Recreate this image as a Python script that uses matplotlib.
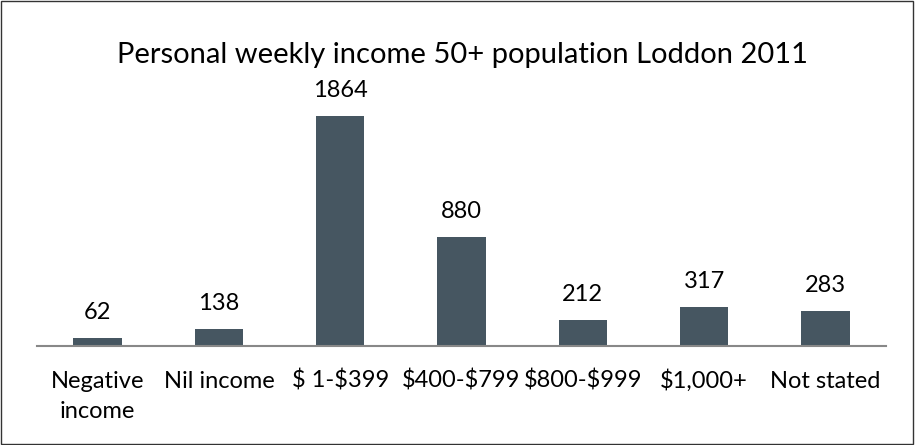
import matplotlib
matplotlib.use("Agg")
import matplotlib.pyplot as plt
from matplotlib.patches import Rectangle

categories = ["Negative\nincome", "Nil income", "\\$ 1-\\$399", "\\$400-\\$799",
              "\\$800-\\$999", "\\$1,000+", "Not stated"]
values = [62, 138, 1864, 880, 212, 317, 283]
title = "Personal weekly income 50+ population Loddon 2011"

BAR_COLOR = "#465661"
plt.rcParams["font.family"] = ["Lato", "DejaVu Sans"]

fig = plt.figure(figsize=(9.15, 4.45), dpi=100)
ax = fig.add_axes([0.0404, 0.2225, 0.9279, 0.5753])

x = list(range(len(categories)))
ax.bar(x, values, width=0.4, color=BAR_COLOR, zorder=2)
for xi, v in zip(x, values):
    ax.annotate(str(v), (xi, v), xytext=(0, 19), textcoords="offset pixels",
                ha="center", va="baseline", fontsize=17, color="black")

# category labels: one text per line so the first lines share a baseline
for xi, lab in zip(x, categories):
    for k, line in enumerate(lab.split("\n")):
        ax.annotate(line, (xi, 0), xycoords=("data", "axes fraction"),
                    xytext=(0, -42 - 30 * k), textcoords="offset pixels",
                    ha="center", va="baseline", fontsize=17,
                    annotation_clip=False)

ax.set_xlim(-0.5, len(categories) - 0.5)
ax.set_ylim(0, 2075)
ax.set_yticks([])
ax.set_xticks([])
for side in ["top", "right", "left"]:
    ax.spines[side].set_visible(False)
ax.spines["bottom"].set_color("#888888")
ax.spines["bottom"].set_linewidth(1.5)

fig.text(0.4655 + 0.0400, 1 - 55 / 445, title, ha="center", va="center", fontsize=21)

fig.patches.append(Rectangle((0.001, 0.002), 0.997, 0.995, transform=fig.transFigure,
                             fill=False, edgecolor="#333333", linewidth=1))

fig.savefig("out.png", dpi=100)
